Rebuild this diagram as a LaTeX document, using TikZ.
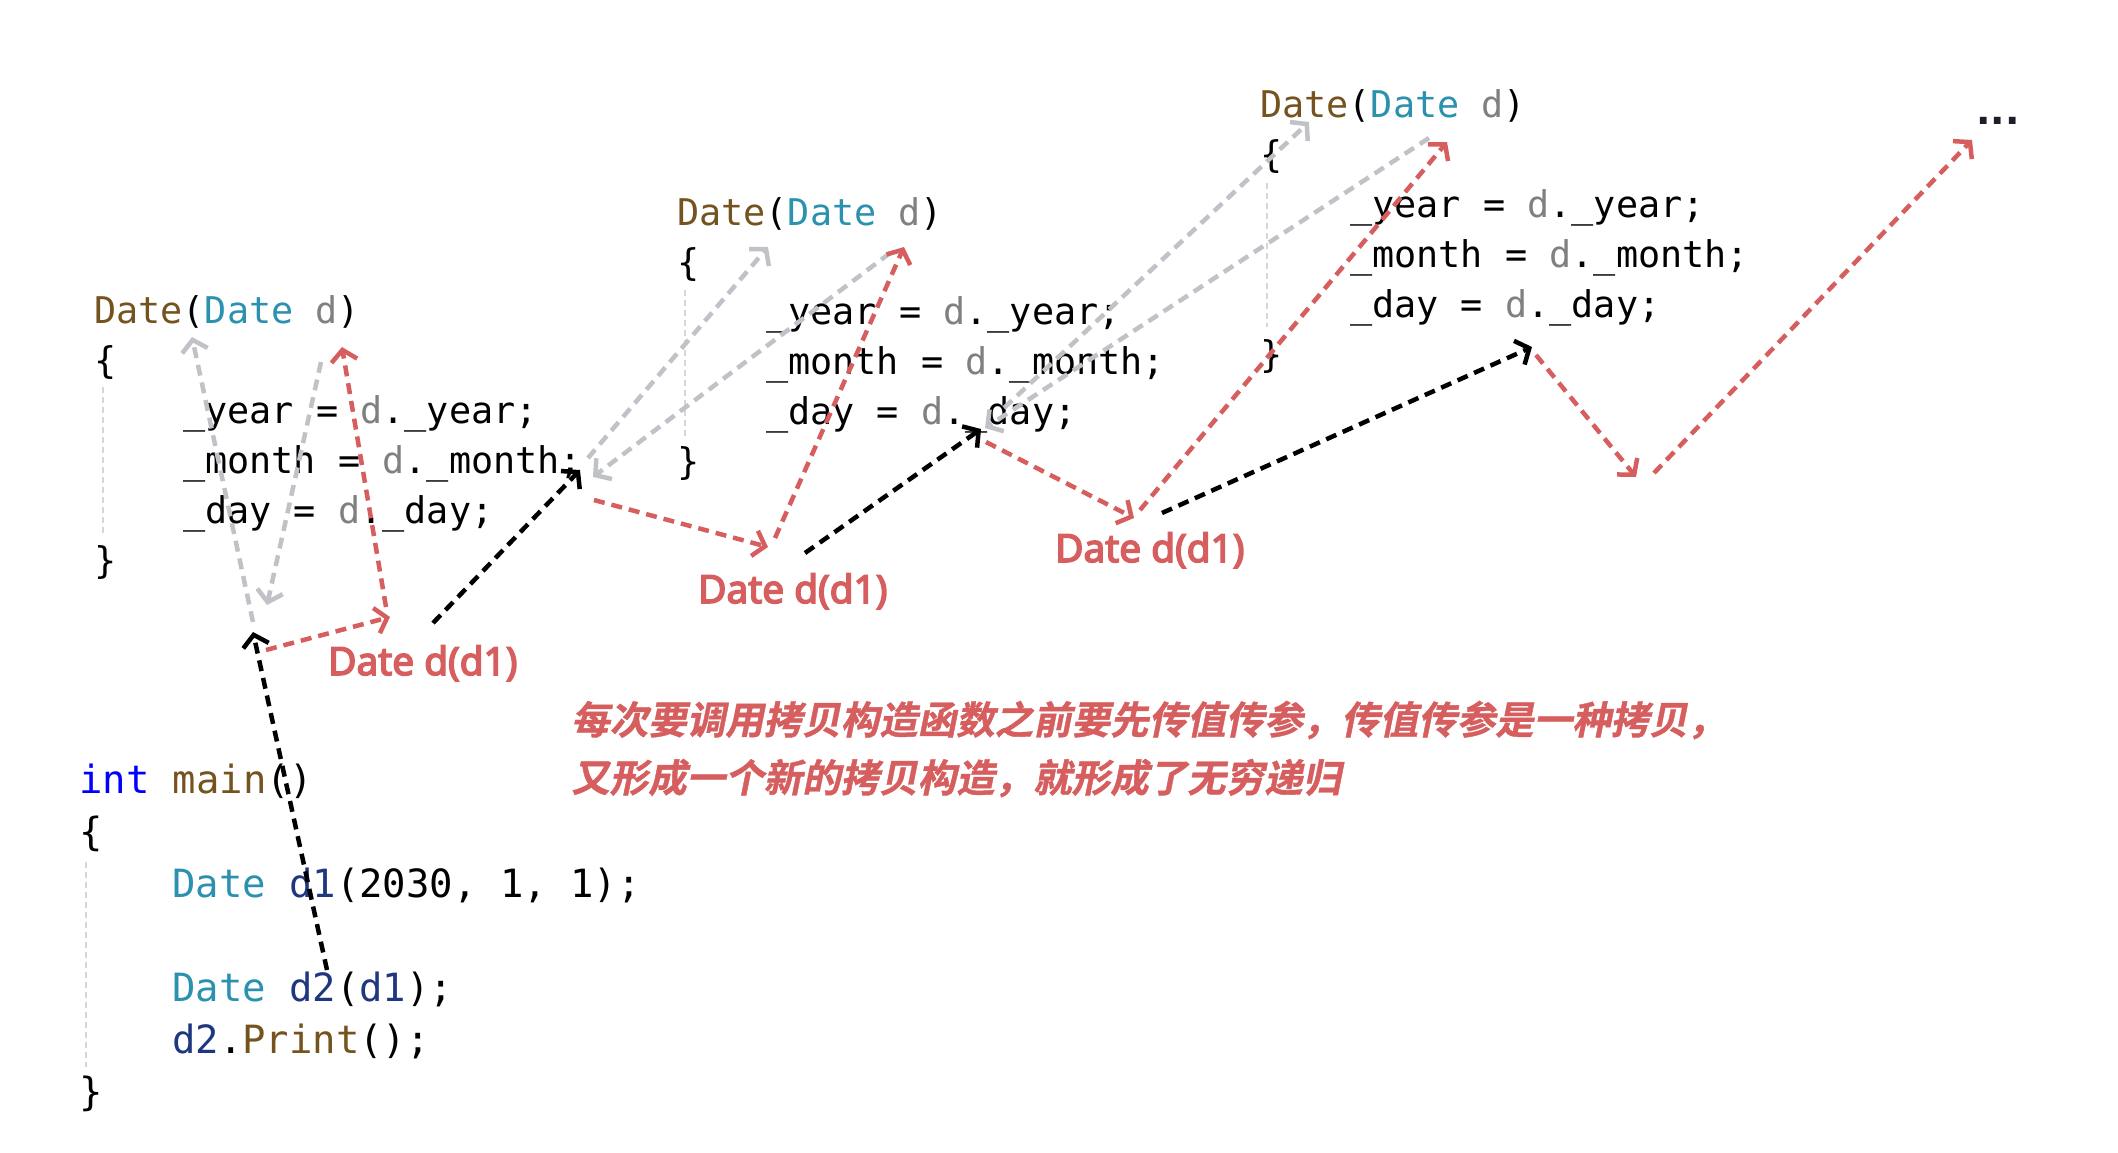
\documentclass[tikz,border=0pt]{standalone}
\usepackage{fontspec}
\usetikzlibrary{arrows.meta}
\newfontfamily\codefont{DejaVu Sans Mono}
\newfontfamily\labfont[FakeBold=4]{Noto Sans}
\newfontfamily\dotfont{DejaVu Sans}
\newfontfamily\cjkfont[FakeSlant=0.2,FakeBold=1]{Noto Sans CJK SC Bold}
\definecolor{fn}{HTML}{74531F}
\definecolor{ty}{HTML}{2B91AF}
\definecolor{pa}{HTML}{808080}
\definecolor{kw}{HTML}{0000FF}
\definecolor{va}{HTML}{1F377F}
\definecolor{rd}{HTML}{D65E5E}
\definecolor{gy}{HTML}{C0C2C7}
\definecolor{gd}{HTML}{D6D6D6}
\definecolor{dk}{HTML}{1E1E28}
\begin{document}
\begin{tikzpicture}[x=1pt,y=-1pt,
  code/.style={font=\codefont\fontsize{36.8}{44}\selectfont\frenchspacing, anchor=base west, inner sep=0pt},
  mcode/.style={font=\codefont\fontsize{38.9}{46}\selectfont\frenchspacing, anchor=base west, inner sep=0pt},
  lab/.style={font=\labfont\fontsize{38.8}{44}\selectfont, text=rd, anchor=base west, inner sep=0pt},
  note/.style={font=\cjkfont\fontsize{38.5}{46}\selectfont, text=rd, anchor=base west, inner sep=0pt},
  guide/.style={draw=gd, line width=1.5pt, dash pattern=on 6pt off 4pt},
  arr/.style={line width=4.5pt, dash pattern=on 11pt off 7pt, -{Straight Barb[length=11pt,width=26pt]}},
  blk/.style={arr, draw=black},
  redarr/.style={arr, draw=rd},
  gryarr/.style={arr, draw=gy}]
\useasboundingbox (0,0) rectangle (2118,1152);
\fill[white] (0,0) rectangle (2118,1152);

% guides
\draw[guide] (103,387) -- (103,533);
\draw[guide] (685,290) -- (685,437);
\draw[guide] (1267,183) -- (1267,327);
\draw[guide] (86,862) -- (86,1067);

% block 1
\node[code] (a1) at (94,323) {\textcolor{fn}{Date}(\textcolor{ty}{Date} \textcolor{pa}{d})};
\node[code] (a2) at (94,373) {\{};
\node[code] (a3) at (183,423) {\_year = \textcolor{pa}{d}.\_year;};
\node[code] (a4) at (183,473) {\_month = \textcolor{pa}{d}.\_month;};
\node[code] (a5) at (183,523) {\_day = \textcolor{pa}{d}.\_day;};
\node[code] (a6) at (94,573) {\}};

% block 2
\node[code] (b1) at (677,225) {\textcolor{fn}{Date}(\textcolor{ty}{Date} \textcolor{pa}{d})};
\node[code] (b2) at (677,275) {\{};
\node[code] (b3) at (766,324) {\_year = \textcolor{pa}{d}.\_year;};
\node[code] (b4) at (766,374) {\_month = \textcolor{pa}{d}.\_month;};
\node[code] (b5) at (766,424) {\_day = \textcolor{pa}{d}.\_day;};
\node[code] (b6) at (677,474) {\}};

% block 3
\node[code] (c1) at (1260,117) {\textcolor{fn}{Date}(\textcolor{ty}{Date} \textcolor{pa}{d})};
\node[code] (c2) at (1260,167) {\{};
\node[code] (c3) at (1350,217) {\_year = \textcolor{pa}{d}.\_year;};
\node[code] (c4) at (1350,267) {\_month = \textcolor{pa}{d}.\_month;};
\node[code] (c5) at (1350,317) {\_day = \textcolor{pa}{d}.\_day;};
\node[code] (c6) at (1260,367) {\}};

\node[anchor=base west, inner sep=0pt, text=dk, font=\dotfont\bfseries\fontsize{38}{40}\selectfont] (dots) at (1976,124) {...};

% main
\node[mcode] (m1) at (79,793) {\textcolor{kw}{int} \textcolor{fn}{main}()};
\node[mcode] (m2) at (79,845) {\{};
\node[mcode] (m3) at (172,897) {\textcolor{ty}{Date} \textcolor{va}{d1}(2030, 1, 1);};
\node[mcode] (m4) at (172,1001) {\textcolor{ty}{Date} \textcolor{va}{d2}(\textcolor{va}{d1});};
\node[mcode] (m5) at (172,1053) {\textcolor{va}{d2}.\textcolor{fn}{Print}();};
\node[mcode] (m6) at (79,1105) {\}};

% labels
\node[lab] (l1) at (328,675) {Date d(d1)};
\node[lab] (l2) at (698,603) {Date d(d1)};
\node[lab] (l3) at (1055,562) {Date d(d1)};
\node[note] (n1) at (571,734) {每次要调用拷贝构造函数之前要先传值传参，传值传参是一种拷贝，};
\node[note] (n2) at (571,792) {又形成一个新的拷贝构造，就形成了无穷递归};

% endpoints
\coordinate (k0) at (327,970);
\coordinate (k1) at (253,632);
\coordinate (k2s) at (433,623);
\coordinate (k2) at (580,470);
\coordinate (k3s) at (805,553);
\coordinate (k3) at (981,429);
\coordinate (k4s) at (1162,513);
\coordinate (k4) at (1532,347);

\coordinate (r1s) at (266,650);
\coordinate (r1) at (390,617);
\coordinate (r2s) at (386,607);
\coordinate (r2) at (342,347);
\coordinate (r3s) at (594,500);
\coordinate (r3) at (768,547);
\coordinate (r4s) at (775,538);
\coordinate (r4) at (904,247);
\coordinate (r5s) at (986,442);
\coordinate (r5) at (1134,518);
\coordinate (r6s) at (1140,510);
\coordinate (r6) at (1447,142);
\coordinate (r7s) at (1536,355);
\coordinate (r7) at (1636,477);
\coordinate (r8s) at (1654,473);
\coordinate (r8) at (1972,140);

\coordinate (g1s) at (253,622);
\coordinate (g1) at (192,337);
\coordinate (g2s) at (321,362);
\coordinate (g2) at (267,605);
\coordinate (g3s) at (588,458);
\coordinate (g3) at (768,247);
\coordinate (g4s) at (890,253);
\coordinate (g4) at (593,477);
\coordinate (g5s) at (1004,408);
\coordinate (g5) at (1309,122);
\coordinate (g6s) at (1429,138);
\coordinate (g6) at (985,428);

% gray arrows
\draw[gryarr] (g1s) -- (g1);
\draw[gryarr] (g2s) -- (g2);
\draw[gryarr] (g3s) -- (g3);
\draw[gryarr] (g4s) -- (g4);
\draw[gryarr] (g5s) -- (g5);
\draw[gryarr] (g6s) -- (g6);

% red arrows
\draw[redarr] (r1s) -- (r1);
\draw[redarr] (r2s) -- (r2);
\draw[redarr] (r3s) -- (r3);
\draw[redarr] (r4s) -- (r4);
\draw[redarr] (r5s) -- (r5);
\draw[redarr] (r6s) -- (r6);
\draw[redarr] (r7s) -- (r7);
\draw[redarr] (r8s) -- (r8);

% black arrows
\draw[blk] (k0) -- (k1);
\draw[blk] (k2s) -- (k2);
\draw[blk] (k3s) -- (k3);
\draw[blk] (k4s) -- (k4);
\end{tikzpicture}
\end{document}
